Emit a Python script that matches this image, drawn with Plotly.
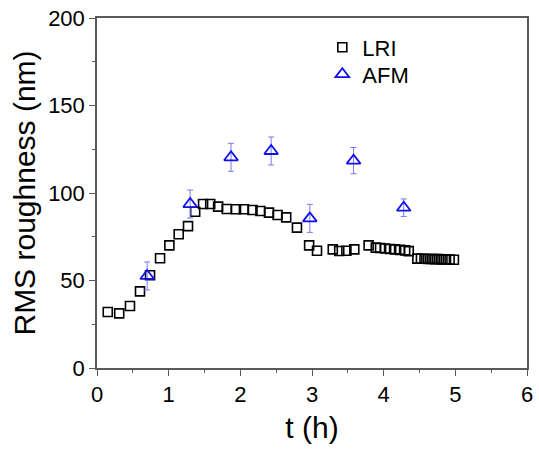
import plotly.graph_objects as go

# LRI roughness time series
lri_t = [0.15, 0.31, 0.46, 0.60, 0.74, 0.88, 1.01, 1.14, 1.27, 1.37, 1.48, 1.58,
         1.69, 1.81, 1.94, 2.05, 2.17, 2.28, 2.40, 2.52, 2.64, 2.79, 2.96, 3.07,
         3.29, 3.38, 3.48, 3.59, 3.79, 3.89, 3.95, 4.02, 4.09, 4.16, 4.23, 4.30,
         4.35, 4.47, 4.52, 4.57, 4.62, 4.67, 4.72, 4.77, 4.82, 4.87, 4.92, 4.98]
lri_rms = [32.0, 31.2, 35.4, 43.8, 53.0, 62.7, 70.1, 76.4, 81.1, 89.3, 93.7, 93.7,
           92.2, 90.9, 90.7, 90.7, 90.3, 89.7, 88.8, 87.4, 86.1, 80.2, 70.1, 67.0,
           67.8, 66.9, 67.0, 67.8, 70.1, 68.8, 68.6, 68.3, 68.0, 67.8, 67.5, 67.2,
           66.8, 62.5, 62.4, 62.4, 62.3, 62.3, 62.2, 62.2, 62.1, 62.0, 62.0, 61.9]

# AFM roughness with error bars
afm_t = [0.70, 1.30, 1.87, 2.43, 2.97, 3.58, 4.28]
afm_rms = [52.6, 93.7, 120.4, 124.0, 85.5, 118.5, 91.6]
afm_err = [8.0, 8.0, 8.0, 8.0, 8.0, 7.5, 5.0]

font_family = "Liberation Sans, Arial, sans-serif"
axis_color = "#5a5a5a"

fig = go.Figure()

fig.add_trace(go.Scatter(
    x=lri_t, y=lri_rms, mode="markers", name="LRI", legend="legend",
    marker=dict(symbol="square-open", size=9, color="black",
                line=dict(width=1.6, color="black")),
))

fig.add_trace(go.Scatter(
    x=afm_t, y=afm_rms, mode="markers", name="AFM", legend="legend2",
    marker=dict(symbol="triangle-up-open", size=12, color="#1010ee",
                line=dict(width=1.8, color="#1010ee")),
    error_y=dict(type="data", array=afm_err, visible=True,
                 color="#7a7af0", thickness=1, width=3),
))

axis_common = dict(
    showline=True, linecolor=axis_color, linewidth=1.5, mirror=True,
    ticks="outside", tickcolor=axis_color, ticklen=6, tickwidth=1.2,
    showgrid=False, zeroline=False,
    tickfont=dict(family=font_family, size=22, color="black"),
)

fig.update_xaxes(
    range=[0, 6], tickvals=[0, 1, 2, 3, 4, 5, 6],
    minor=dict(dtick=0.5, tick0=0, ticks="outside", ticklen=3,
               tickcolor=axis_color, tickwidth=1.2),
    title=dict(text="t (h)", font=dict(family=font_family, size=30, color="black"),
               standoff=11),
    **axis_common,
)
fig.update_yaxes(
    range=[0, 200], tickvals=[0, 50, 100, 150, 200],
    minor=dict(dtick=25, tick0=0, ticks="outside", ticklen=3,
               tickcolor=axis_color, tickwidth=1.2),
    title=dict(text="RMS roughness (nm)",
               font=dict(family=font_family, size=30, color="black"),
               standoff=4),
    **axis_common,
)

legend_style = dict(xanchor="left", yanchor="top", bgcolor="rgba(0,0,0,0)",
                    font=dict(family=font_family, size=22, color="black"),
                    itemwidth=30)

fig.update_layout(
    width=539, height=450,
    margin=dict(l=97, r=6, t=18, b=82),
    paper_bgcolor="white", plot_bgcolor="white",
    showlegend=True,
    legend=dict(x=0.524, y=0.976, **legend_style),
    legend2=dict(x=0.524, y=0.899, **legend_style),
)

fig.write_html("out.html")
